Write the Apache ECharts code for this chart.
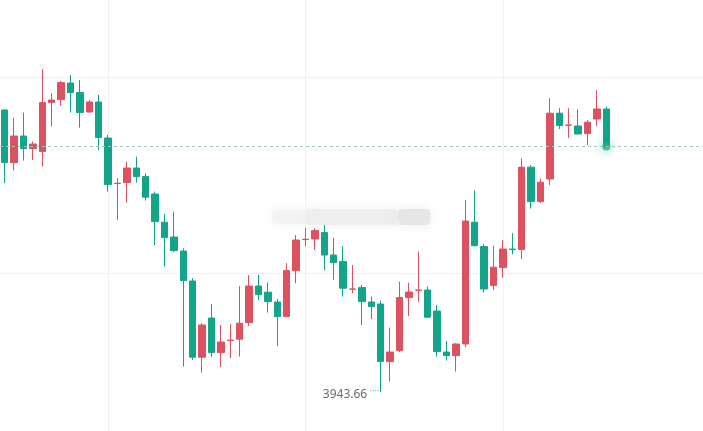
<!DOCTYPE html>
<html>
<head>
<meta charset="utf-8">
<script src="https://cdn.jsdelivr.net/npm/echarts@6/dist/echarts.min.js"></script>
<style>
  html, body { margin: 0; padding: 0; background: #fff; }
  #chart { width: 703px; height: 431px; }
</style>
</head>
<body>
<div id="chart"></div>
<script>
// 1-minute bars, the last 10 slots are still empty
const times = [
  '13:20', '13:21', '13:22', '13:23', '13:24', '13:25', '13:26', '13:27', '13:28', '13:29',
  '13:30', '13:31', '13:32', '13:33', '13:34', '13:35', '13:36', '13:37', '13:38', '13:39',
  '13:40', '13:41', '13:42', '13:43', '13:44', '13:45', '13:46', '13:47', '13:48', '13:49',
  '13:50', '13:51', '13:52', '13:53', '13:54', '13:55', '13:56', '13:57', '13:58', '13:59',
  '14:00', '14:01', '14:02', '14:03', '14:04', '14:05', '14:06', '14:07', '14:08', '14:09',
  '14:10', '14:11', '14:12', '14:13', '14:14', '14:15', '14:16', '14:17', '14:18', '14:19',
  '14:20', '14:21', '14:22', '14:23', '14:24', '14:25', '14:26', '14:27', '14:28', '14:29',
  '14:30', '14:31', '14:32', '14:33', '14:34'
];

const opens = [
  3957.76, 3955.13, 3956.46, 3955.83, 3955.68, 3958.13, 3958.28, 3959.11, 3958.63, 3957.66,
  3958.16, 3956.36, 3954.08, 3954.13, 3954.86, 3954.43, 3953.56, 3952.15, 3951.41, 3950.71,
  3949.21, 3945.40, 3947.36, 3945.63, 3946.23, 3946.30, 3947.13, 3948.96, 3948.65, 3948.16,
  3947.43, 3949.73, 3951.28, 3951.31, 3951.63, 3950.51, 3950.18, 3948.80, 3948.88, 3948.16,
  3948.06, 3945.18, 3945.73, 3948.38, 3948.75, 3948.76, 3947.71, 3945.66, 3945.48, 3946.06,
  3952.15, 3950.93, 3948.98, 3949.88, 3950.81, 3950.78, 3954.90, 3953.18, 3954.31, 3957.60,
  3957.00, 3956.96, 3956.58, 3957.31, 3957.81
];
const closes = [
  3955.13, 3956.46, 3955.83, 3956.06, 3958.13, 3958.26, 3959.13, 3958.63, 3957.63, 3958.16,
  3956.38, 3954.03, 3954.10, 3954.86, 3954.43, 3953.40, 3952.18, 3951.38, 3950.73, 3949.23,
  3945.40, 3947.01, 3945.63, 3946.16, 3946.26, 3947.10, 3948.96, 3948.53, 3948.18, 3947.43,
  3949.73, 3951.26, 3951.30, 3951.73, 3950.51, 3950.13, 3948.85, 3948.81, 3948.18, 3947.93,
  3945.18, 3945.66, 3948.38, 3948.66, 3948.76, 3947.40, 3945.68, 3945.48, 3946.06, 3952.21,
  3950.98, 3948.81, 3949.90, 3950.81, 3950.78, 3954.90, 3953.18, 3954.15, 3957.60, 3956.98,
  3957.01, 3956.56, 3957.15, 3957.81, 3955.93
];
const lows = [
  3954.10, 3954.73, 3955.23, 3955.26, 3954.93, 3956.93, 3957.98, 3957.63, 3956.88, 3957.63,
  3955.76, 3953.68, 3952.26, 3953.13, 3954.13, 3953.23, 3951.01, 3949.93, 3950.66, 3944.93,
  3945.26, 3944.63, 3945.40, 3944.90, 3945.35, 3945.43, 3946.96, 3948.26, 3947.63, 3945.96,
  3947.40, 3949.10, 3950.93, 3950.76, 3949.76, 3949.26, 3948.43, 3948.60, 3947.01, 3947.30,
  3943.66, 3944.18, 3945.66, 3947.46, 3948.18, 3947.36, 3945.43, 3945.23, 3944.68, 3945.90,
  3950.93, 3948.63, 3948.76, 3949.38, 3950.55, 3950.31, 3952.83, 3953.11, 3954.01, 3956.81,
  3956.35, 3956.55, 3956.01, 3956.96, 3955.91
];
const highs = [
  3957.79, 3957.38, 3957.63, 3956.18, 3959.81, 3958.60, 3959.21, 3959.51, 3959.26, 3958.26,
  3958.51, 3956.51, 3954.35, 3955.18, 3955.43, 3954.60, 3953.68, 3952.56, 3952.68, 3950.85,
  3949.35, 3947.10, 3948.06, 3947.01, 3947.05, 3948.96, 3949.51, 3949.51, 3949.13, 3948.30,
  3950.10, 3951.51, 3951.86, 3951.85, 3952.01, 3951.38, 3950.96, 3950.01, 3949.01, 3948.43,
  3948.23, 3946.88, 3949.18, 3949.13, 3950.68, 3948.93, 3948.01, 3946.21, 3946.10, 3953.26,
  3953.73, 3951.06, 3950.98, 3951.26, 3951.60, 3955.35, 3955.00, 3954.33, 3958.35, 3957.85,
  3957.85, 3957.80, 3957.26, 3958.76, 3957.93
];

const UP = '#dd5261';
const DOWN = '#12a589';

const kData = opens.map((o, i) => [o, closes[i], lows[i], highs[i]]);
const lastIdx = closes.length - 1;
const lastClose = closes[lastIdx];

const chart = echarts.init(document.getElementById('chart'));
chart.setOption({
  animation: false,
  backgroundColor: '#fff',
  // the plot runs past the canvas top and bottom, so the grid lines fall inside
  grid: { left: 0, right: -2, top: -119, bottom: -38, outerBoundsMode: 'none', containLabel: false },
  xAxis: {
    type: 'category',
    data: times,
    boundaryGap: true,
    axisLine: { show: false },
    axisTick: { show: false },
    axisLabel: { show: false },
    splitLine: {
      show: true,
      alignWithLabel: true,
      interval: (i) => i % 21 === 11 && i < 70,
      lineStyle: { color: '#f1f1f1', width: 1 }
    }
  },
  yAxis: [
    {
      type: 'value',
      min: 3939.81,
      max: 3969.21,
      show: false
    },
    {
      // only carries the horizontal grid lines
      type: 'value',
      min: 0,
      max: 3,
      interval: 1,
      axisLine: { show: false },
      axisTick: { show: false },
      axisLabel: { show: false },
      splitLine: { show: true, lineStyle: { color: '#f1f1f1', width: 1 } }
    }
  ],
  series: [
    {
      type: 'candlestick',
      data: kData,
      barWidth: 7,
      itemStyle: {
        color: UP,
        color0: DOWN,
        borderColor: UP,
        borderColor0: DOWN,
        borderWidth: 1
      },
      markLine: {
        silent: true,
        symbol: 'none',
        label: { show: false },
        lineStyle: { color: '#9dcabe', type: [3, 3], width: 1 },
        data: [{ yAxis: lastClose }]
      },
      markPoint: {
        symbol: 'circle',
        symbolSize: 1,
        itemStyle: { color: 'rgba(0,0,0,0)' },
        data: [{ type: 'min', valueDim: 'lowest' }],
        label: {
          show: true,
          position: 'left',
          distance: 1,
          formatter: (p) => '{v|' + p.value.toFixed(2) + '}{d| ····}',
          rich: {
            v: { color: '#6b6b6b', fontSize: 12, fontFamily: 'Noto Sans', padding: [5, 0, 0, 0] },
            d: { color: '#9a9a9a', fontSize: 9, fontFamily: 'Noto Sans', padding: [0, 0, 2, 0] }
          }
        }
      }
    },
    {
      type: 'scatter',
      data: [[lastIdx, lastClose]],
      symbolSize: 8,
      silent: true,
      itemStyle: {
        color: '#1fb394',
        shadowBlur: 10,
        shadowColor: 'rgba(18,165,137,0.9)'
      }
    }
  ],
  graphic: [
    {
      type: 'group',
      z: 100,
      children: [
        { type: 'rect', shape: { x: 272, y: 210, width: 34, height: 14, r: 4 },
          style: { fill: 'rgba(242,242,242,0.85)', shadowBlur: 12, shadowColor: 'rgba(242,242,242,1)' } },
        { type: 'rect', shape: { x: 306, y: 209, width: 92, height: 16, r: 4 },
          style: { fill: 'rgba(236,236,236,0.85)', shadowBlur: 12, shadowColor: 'rgba(238,238,238,1)' } },
        { type: 'rect', shape: { x: 398, y: 209, width: 32, height: 16, r: 4 },
          style: { fill: 'rgba(228,228,228,0.85)', shadowBlur: 12, shadowColor: 'rgba(232,232,232,1)' } }
      ]
    }
  ]
});
</script>
</body>
</html>
